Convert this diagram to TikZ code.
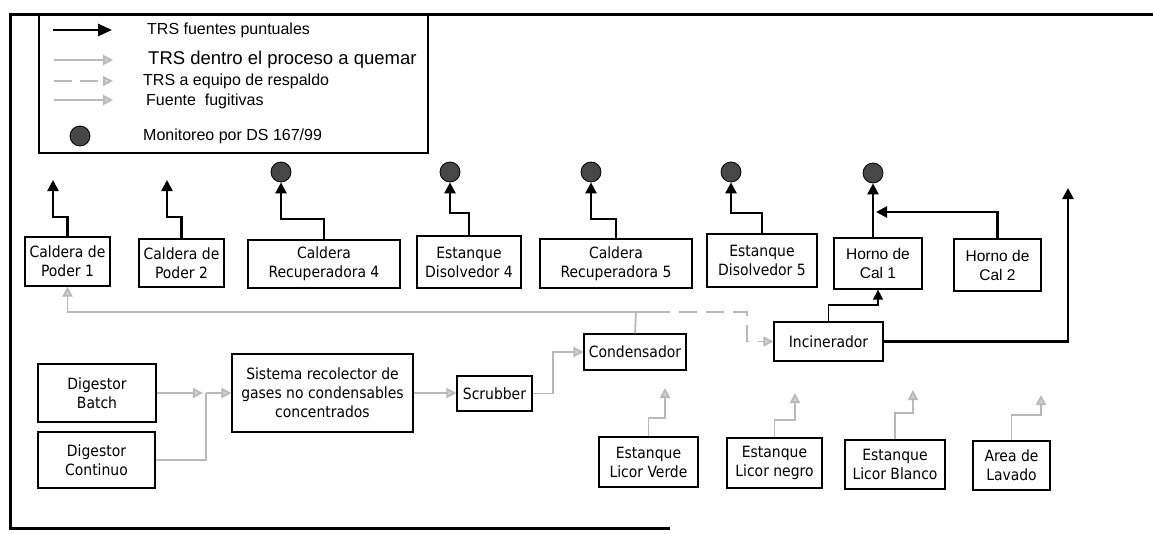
\documentclass[tikz,border=0pt]{standalone}
\usepackage{fontspec}
\setmainfont{Liberation Sans}
\newfontfamily\tah{DejaVu Sans Condensed}
\usetikzlibrary{arrows.meta,calc}
\begin{document}
\begin{tikzpicture}[x=1pt,y=-1pt,
  box/.style={draw,line width=1.2pt,align=center,inner sep=0pt,
    font=\tah\fontsize{15.5}{19}\selectfont},
  boxa/.style={box,font=\fontsize{15.5}{19}\selectfont},
  legtxt/.style={anchor=west,inner sep=0pt,font=\fontsize{16}{18}\selectfont},
  blk/.style={line width=2.5pt,-{Triangle[length=11pt,width=11pt]}},
  thinblk/.style={line width=1.1pt,-{Triangle[length=10pt,width=10pt]}},
  grayline/.style={draw=gray!55,line width=1.8pt},
  grayarr/.style={grayline,-{Triangle[length=10pt,width=10pt,fill=gray!35]}},
  backup/.style={grayarr,dash pattern=on 18pt off 9pt},
  monitor/.style={circle,draw=black,line width=0.8pt,fill=black!72,minimum size=20pt,inner sep=0pt}
]
\useasboundingbox (0,0) rectangle (1153,533);

% outer frame
\draw[line width=3pt] (1153,14) -- (10,14) -- (10,528) -- (670,528);

% legend
\node[draw,line width=1.8pt,minimum width=389pt,minimum height=139pt,inner sep=0pt] (legend) at (233.5,83.5) {};
\coordinate (la1) at (53,30);  \coordinate (lb1) at (112,30);
\coordinate (la2) at (54,60);  \coordinate (lb2) at (113,60);
\coordinate (la3) at (54,81);  \coordinate (lb3) at (113,81);
\coordinate (la4) at (54,100); \coordinate (lb4) at (113,100);
\draw[blk,-{Triangle[length=14pt,width=12pt]}] (la1) -- (lb1);
\draw[grayarr] (la2) -- (lb2);
\draw[grayarr,dash pattern=on 18pt off 8pt] (la3) -- (lb3);
\draw[grayarr] (la4) -- (lb4);
\node[monitor] (lm) at (80,136) {};
\node[legtxt] (t1) at (147,30) {TRS fuentes puntuales};
\node[legtxt,font=\fontsize{18.5}{20}\selectfont] (t2) at (148,60) {TRS dentro el proceso a quemar};
\node[legtxt] (t3) at (143,81) {TRS a equipo de respaldo};
\node[legtxt] (t4) at (146,101) {Fuente\ \ fugitivas};
\node[legtxt] (t5) at (143,136) {Monitoreo por DS 167/99};

% upper row of sources
\node[box,minimum width=85pt,minimum height=49pt] (cp1) at (67.5,261.5) {Caldera de\\Poder 1};
\node[box,minimum width=85pt,minimum height=48pt] (cp2) at (181.5,263) {Caldera de\\Poder 2};
\node[box,minimum width=152pt,minimum height=48pt] (cr4) at (324,264) {Caldera\\Recuperadora 4};
\node[box,minimum width=104pt,minimum height=52pt] (ed4) at (469,262) {Estanque\\Disolvedor 4};
\node[box,minimum width=152pt,minimum height=49pt] (cr5) at (616,263.5) {Caldera\\Recuperadora 5};
\node[box,minimum width=110pt,minimum height=53pt] (ed5) at (762,260.5) {Estanque\\Disolvedor 5};
\node[boxa,minimum width=88pt,minimum height=51pt] (hc1) at (878,263.5) {Horno de\\Cal 1};
\node[boxa,minimum width=87pt,minimum height=52pt] (hc2) at (997.5,265) {Horno de\\Cal 2};

% monitoring points
\node[monitor] (m4) at (281,172) {};
\node[monitor] (m5) at (450,172) {};
\node[monitor] (m6) at (591,172) {};
\node[monitor] (m7) at (731,172) {};
\node[monitor] (m8) at (873,173) {};
\coordinate (v1) at (53,180);
\coordinate (v2) at (167,180);
\coordinate (v3) at (1068,188);

% point-source emissions
\draw[blk] (cp1.north) |- (53,217) -- (v1);
\draw[blk] (cp2.north) |- (167,217) -- (v2);
\draw[blk] (cr4.north) |- (281,219) -- (m4.south);
\draw[blk] (ed4.north) |- (450,213) -- (m5.south);
\draw[blk] (cr5.north) |- (591,219) -- (m6.south);
\draw[blk] (ed5.north) |- (731,213) -- (m7.south);
\draw[blk] (hc1.north -| m8) -- (m8.south);
\draw[blk] (hc2.north) |- (876,212);

% concentrated gas collection line
\node[box,minimum width=118pt,minimum height=58pt] (db) at (97,393) {Digestor\\Batch};
\node[box,minimum width=117pt,minimum height=56pt] (dc) at (96.5,460) {Digestor\\Continuo};
\node[box,minimum width=181pt,minimum height=78pt] (sis) at (322.5,393) {Sistema recolector de\\gases no condensables\\concentrados};
\node[box,minimum width=75pt,minimum height=35pt] (scr) at (494.5,393.5) {Scrubber};
\node[box,minimum width=102pt,minimum height=36pt] (con) at (635,352) {Condensador};
\node[box,minimum width=109pt,minimum height=39pt] (inc) at (828.5,341.5) {Incinerador};

\coordinate (j1) at (206,393);
\coordinate (j2) at (636,312);
\draw[grayarr] (db.east) -- (203,393);
\draw[grayline] (dc.east) -| (j1);
\draw[grayarr] (j1) -- (sis.west);
\draw[grayarr] (sis.east) -- (sis.east -| scr.west);
\draw[grayarr] (scr.east) -| (553,352) -- (con.west);
\draw[grayline] (con.north) -- (j2);
\draw[grayarr] (j2) -| (cp1.south);
\draw[grayline] (j2) -- (652,312);
\draw[backup] (652,312) -- (747,312) -- (747,341.5) -- (inc.west);

% incinerator outputs
\draw[thinblk] (inc.north) |- (878,305) -- (hc1.south);
\draw[blk] (inc.east) -| (v3);

% fugitive sources
\node[box,minimum width=99pt,minimum height=50pt] (lv) at (648.5,462) {Estanque\\Licor Verde};
\node[box,minimum width=95pt,minimum height=50pt] (ln) at (774.5,463) {Estanque\\Licor negro};
\node[box,minimum width=100pt,minimum height=49pt] (lb) at (895,464.5) {Estanque\\Licor Blanco};
\node[box,minimum width=77pt,minimum height=49pt] (al) at (1011.5,465.5) {Area de\\Lavado};
\coordinate (f1) at (665,388);
\coordinate (f2) at (795,393);
\coordinate (f3) at (913,390);
\coordinate (f4) at (1041,395);
\draw[grayarr] (lv.north) |- (665,418) -- (f1);
\draw[grayarr] (ln.north) |- (795,420) -- (f2);
\draw[grayarr] (lb.north) |- (913,413) -- (f3);
\draw[grayarr] (al.north) |- (1041,415) -- (f4);
\end{tikzpicture}
\end{document}
